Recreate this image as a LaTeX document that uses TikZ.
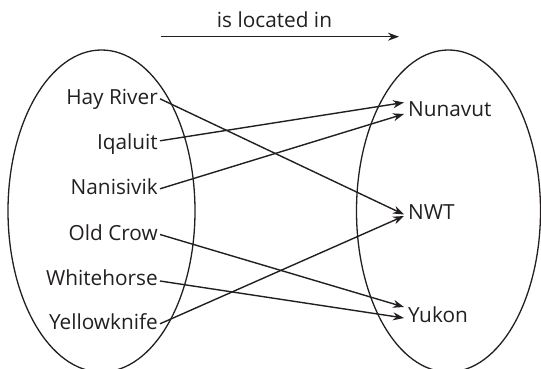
\documentclass[tikz,border=0pt]{standalone}
\usepackage{fontspec}
\setmainfont{Open Sans}
\usetikzlibrary{arrows.meta}
\definecolor{ink}{HTML}{231F20}
\begin{document}
\begin{tikzpicture}[x=1pt,y=-1pt,
  every node/.style={font=\fontsize{20.8}{24}\selectfont, text=ink, inner ysep=0pt, text height=15pt, text depth=4pt},
  city/.style={anchor=base east, inner xsep=2pt},
  region/.style={anchor=base west, inner xsep=4pt},
  link/.style={draw=ink, line width=1.4pt, -{Stealth[length=11pt,width=8pt,inset=3.5pt]}},
  set/.style={draw=ink, line width=1.3pt}]
\useasboundingbox (0,0) rectangle (541,369);
\clip (0,0) rectangle (541,369);
\draw[set] (101.5,211) ellipse [x radius=93.5, y radius=161];
\draw[set] (448.5,211) ellipse [x radius=92, y radius=161];
% title arrow
\coordinate (t1) at (161,36.7);
\coordinate (t2) at (399,36.7);
\draw[link] (t1) -- (t2);
\node[anchor=base] (title) at (274.5,28) {is located in};
% cities
\node[city] (hr) at (160,104.3) {Hay River};
\node[city] (iq) at (160,149.3) {Iqaluit};
\node[city] (na) at (160,194.3) {Nanisivik};
\node[city] (oc) at (160,240) {Old Crow};
\node[city] (wh) at (160,285) {Whitehorse};
\node[city] (ye) at (160,329.3) {Yellowknife};
% regions
\node[region] (nu) at (404,117) {Nunavut};
\node[region] (nw) at (404,219) {NWT};
\node[region] (yu) at (404,322) {Yukon};
% connectors
\draw[link] (hr.east) -- ([yshift=-1pt]nw.west);
\draw[link] ([yshift=3pt]iq.east) -- ([yshift=9pt]nu.west);
\draw[link] (na.east) -- ([yshift=-2.5pt]nu.west);
\draw[link] (oc.east) -- ([yshift=9.5pt]yu.west);
\draw[link] ([yshift=-1.5pt]wh.east) -- ([yshift=-1.5pt]yu.west);
\draw[link] (ye.east) -- ([yshift=-2.5pt]nw.west);
\end{tikzpicture}
\end{document}
